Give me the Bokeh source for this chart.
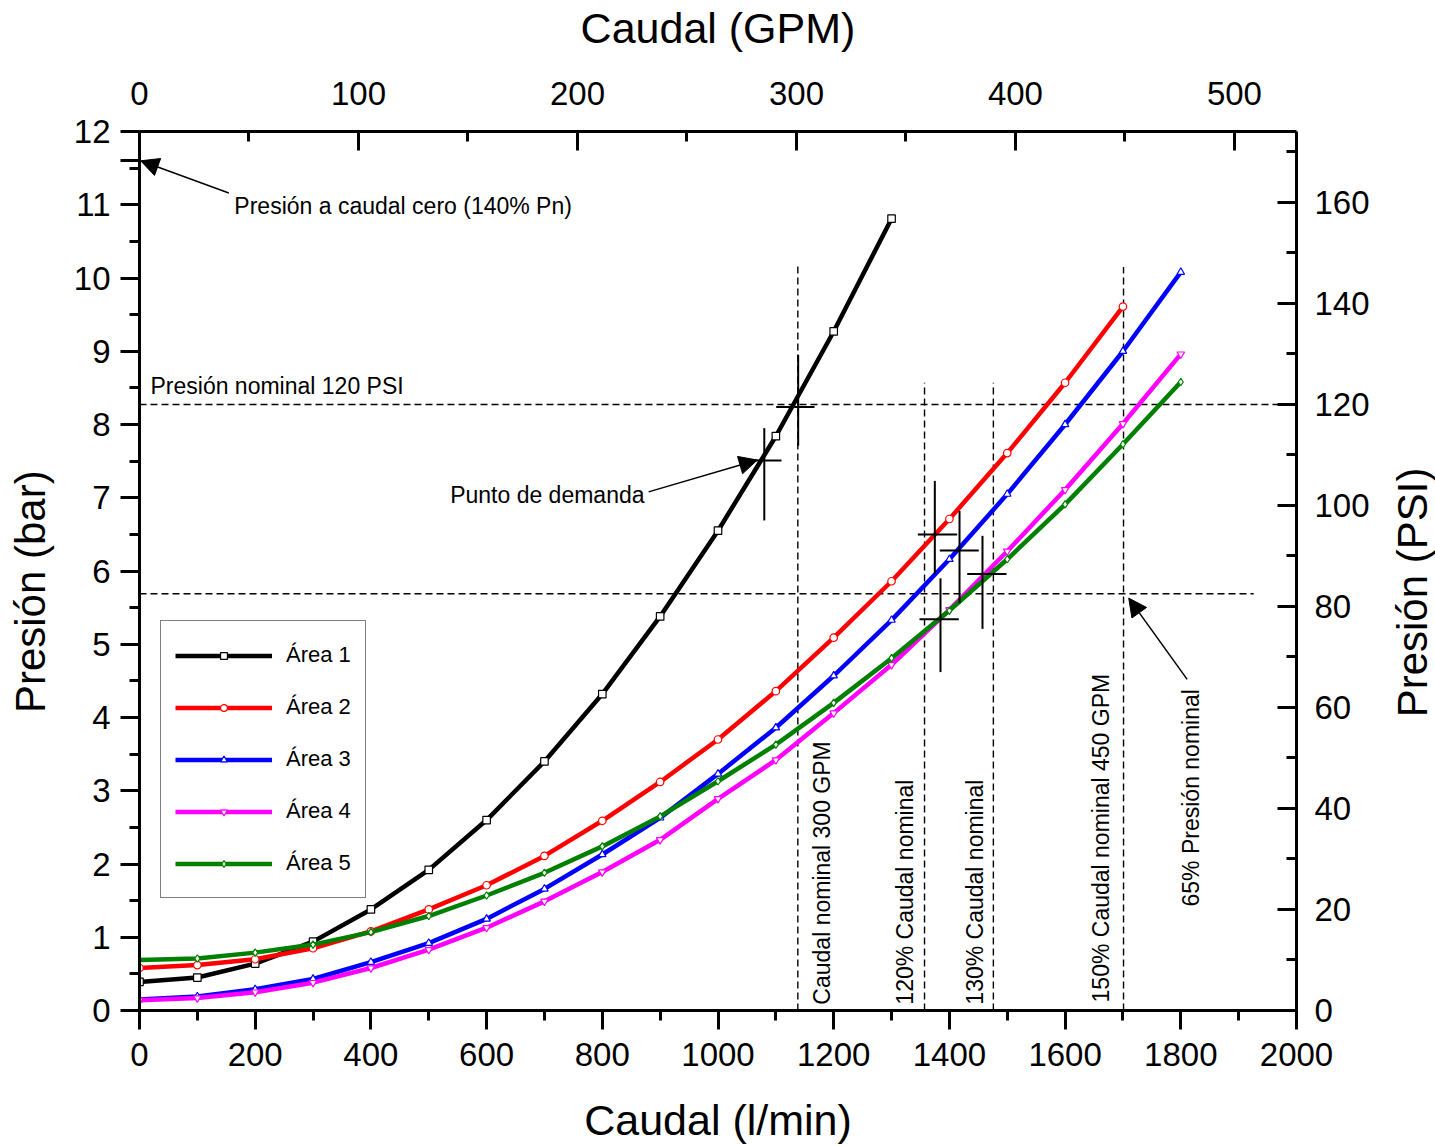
import numpy as np
from bokeh.plotting import figure
from bokeh.layouts import row
from bokeh.models import (Range1d, LinearAxis, SingleIntervalTicker, FixedTicker, Legend,
                          LegendItem, Label, Arrow, NormalHead)
from bokeh.core.properties import value
from bokeh.embed import file_html
from bokeh.resources import INLINE

# Unit conversions for the secondary axes
LPM_PER_GPM = 3.785411784
PSI_PER_BAR = 14.5037738

# ---- Pump curves: pressure (bar) against flow (l/min) ----
flow_lpm = [0, 100, 200, 300, 400, 500, 600, 700, 800, 900,
            1000, 1100, 1200, 1300, 1400, 1500, 1600, 1700, 1800]

area1 = [0.39, 0.45, 0.64, 0.94, 1.38, 1.92, 2.60, 3.40, 4.32, 5.38,
         6.55, 7.84, 9.27, 10.81]
area2 = [0.58, 0.62, 0.70, 0.85, 1.08, 1.38, 1.71, 2.11, 2.59, 3.12,
         3.70, 4.36, 5.09, 5.86, 6.71, 7.61, 8.57, 9.61]
area3 = [0.15, 0.19, 0.29, 0.43, 0.66, 0.92, 1.25, 1.66, 2.13, 2.63,
         3.23, 3.86, 4.57, 5.33, 6.16, 7.05, 8.00, 9.00, 10.08]
area4 = [0.14, 0.17, 0.25, 0.38, 0.58, 0.83, 1.13, 1.49, 1.89, 2.33,
         2.89, 3.42, 4.06, 4.72, 5.47, 6.27, 7.11, 8.01, 8.96]
area5 = [0.69, 0.71, 0.79, 0.90, 1.07, 1.29, 1.57, 1.88, 2.24, 2.65,
         3.13, 3.63, 4.20, 4.81, 5.46, 6.16, 6.91, 7.73, 8.58]

series_names = ["Área 1", "Área 2", "Área 3", "Área 4", "Área 5"]
series_values = [area1, area2, area3, area4, area5]
series_colors = ["#000000", "#FF0000", "#0000FF", "#FF00FF", "#008000"]
series_markers = ["square", "circle", "triangle", "inverted_triangle", "diamond"]

# ---- Reference lines ----
nominal_flow_lpm = [1138, 1357, 1476, 1701]      # 300 GPM, 120 %, 130 %, 150 %
nominal_flow_top_bar = [10.17, 8.57, 8.57, 10.15]
nominal_pressure_bar = 120 / PSI_PER_BAR           # 120 PSI
low_pressure_bar = 5.69                           # 65 % line
shutoff_pressure_bar = 11.6                       # 140 % Pn at zero flow

# ---- Operating points (cross marks) ----
cross_x = [1080, 1138.6, 1374.8, 1417.5, 1457.2, 1384.6]
cross_y = [7.51, 8.24, 6.50, 6.28, 5.96, 5.34]
cross_x0 = [1043.6, 1100.6, 1345.4, 1383.4, 1430.8, 1348.3]
cross_x1 = [1109.8, 1166.8, 1413.5, 1450.8, 1498.7, 1416.2]
cross_y0 = [6.69, 7.71, 5.96, 5.56, 5.21, 4.62]
cross_y1 = [7.95, 8.95, 7.23, 6.82, 6.48, 5.90]

FONT = "Liberation Sans"
HEIGHT = 1146
LEFT_STRIP = 58      # width of the strip holding the left pressure title
RIGHT_STRIP = 50     # width of the strip holding the right pressure title

p = figure(width=1435 - LEFT_STRIP - RIGHT_STRIP, height=HEIGHT,
           x_range=Range1d(0, 2000), y_range=Range1d(0, 12),
           output_backend="svg", toolbar_location=None,
           min_border_left=139 - LEFT_STRIP, min_border_right=139 - RIGHT_STRIP,
           min_border_top=131, min_border_bottom=135)
p.extra_x_ranges = {"gpm": Range1d(0, 2000 / LPM_PER_GPM)}
p.extra_y_ranges = {"psi": Range1d(0, 12 * PSI_PER_BAR)}
p.xgrid.visible = False
p.ygrid.visible = False
p.outline_line_color = None
p.background_fill_color = "white"
p.border_fill_color = "white"


def style_axis(ax, tick_in, tick_out, standoff, title=None, title_standoff=0):
    ax.axis_line_width = 3
    ax.axis_line_color = "black"
    ax.major_tick_line_width = 3
    ax.minor_tick_line_width = 3
    ax.major_tick_in = tick_in
    ax.major_tick_out = tick_out
    ax.minor_tick_in = int(round(tick_in * 0.55))
    ax.minor_tick_out = int(round(tick_out * 0.55))
    ax.major_label_text_font = FONT
    ax.major_label_text_font_size = "33px"
    ax.major_label_text_color = "black"
    ax.major_label_standoff = standoff
    if title:
        ax.axis_label = title
        ax.axis_label_text_font = FONT
        ax.axis_label_text_font_size = "43px"
        ax.axis_label_text_font_style = "normal"
        ax.axis_label_text_color = "black"
        ax.axis_label_standoff = title_standoff


bottom = p.xaxis[0]
bottom.ticker = SingleIntervalTicker(interval=200, num_minor_ticks=2)
style_axis(bottom, 0, 19, 13, "Caudal (l/min)", 27)

# Left axis: whole bars labelled, plus an unlabelled mark at the shut-off pressure
left = p.yaxis[0]
left.ticker = FixedTicker(ticks=list(range(13)) + [shutoff_pressure_bar],
                          minor_ticks=[i + 0.5 for i in range(12)])
left.major_label_overrides = {shutoff_pressure_bar: ""}
style_axis(left, 0, 19, 10)

top = LinearAxis(x_range_name="gpm",
                 ticker=SingleIntervalTicker(interval=100, num_minor_ticks=2))
style_axis(top, 19, 0, 27, "Caudal (GPM)", 27)
p.add_layout(top, "above")

right = LinearAxis(y_range_name="psi",
                   ticker=SingleIntervalTicker(interval=20, num_minor_ticks=2))
style_axis(right, 19, 0, 18)
p.add_layout(right, "right")

# Dashed reference lines
dash = dict(line_color="black", line_width=1.4, line_dash="7 4")
p.segment(x0=nominal_flow_lpm, y0=[0] * 4, x1=nominal_flow_lpm, y1=nominal_flow_top_bar, **dash)
p.segment(x0=[0, 0], y0=[nominal_pressure_bar, low_pressure_bar],
          x1=[2000, 1926], y1=[nominal_pressure_bar, low_pressure_bar], **dash)

# Curves
legend_items = []
for name, vals, color, marker in zip(series_names, series_values, series_colors, series_markers):
    xs = flow_lpm[:len(vals)]
    rl = p.line(xs, vals, line_color=color, line_width=4.5)
    rs = p.scatter(xs, vals, marker=marker, size=7.5, fill_color="white",
                   line_color=color, line_width=1.2)
    legend_items.append(LegendItem(label=name, renderers=[rl, rs]))

# Operating point crosses
p.segment(x0=cross_x0, y0=cross_y, x1=cross_x1, y1=cross_y, line_color="black", line_width=2)
p.segment(x0=cross_x, y0=cross_y0, x1=cross_x, y1=cross_y1, line_color="black", line_width=2)


def arrow(x0, y0, x1, y1):
    p.add_layout(Arrow(end=NormalHead(size=18, fill_color="black", line_color="black", line_width=1),
                       x_start=x0, y_start=y0, x_end=x1, y_end=y1,
                       line_width=1.5, line_color="black"))


arrow(154.4, 11.16, 2.0, shutoff_pressure_bar)
arrow(880.0, 7.08, 1068.0, 7.515)
arrow(1811.0, 4.52, 1710.0, low_pressure_bar - 0.06)


def label(x, y, text, size="23px", angle=0.0, align="left"):
    p.add_layout(Label(x=x, y=y, text=text, text_font=FONT, text_font_size=size,
                       text_color="black", text_align=align, text_baseline="middle",
                       angle=angle, angle_units="rad"))


label(164, 10.98, "Presión a caudal cero (140% Pn)")
label(19, 8.52, "Presión nominal 120 PSI")
label(537, 7.04, "Punto de demanda")
label(1180.6, 0.08, "Caudal nominal 300 GPM", angle=np.pi / 2)
label(1322.4, 0.08, "120% Caudal nominal", angle=np.pi / 2)
label(1443.4, 0.08, "130% Caudal nominal", angle=np.pi / 2)
label(1661.2, 0.11, "150% Caudal nominal 450 GPM", angle=np.pi / 2)
label(1816.8, 1.42, "65% Presión nominal", angle=np.pi / 2)

legend = Legend(items=legend_items, location=(21, 112),
                padding=14, spacing=12, glyph_width=97, glyph_height=17,
                label_height=40, label_standoff=14,
                label_text_font=FONT, label_text_font_size="22px",
                label_text_color="black", label_text_baseline="middle",
                border_line_color="black", border_line_width=1,
                background_fill_color="white", margin=0)
p.add_layout(legend, "center")


# Side strips carrying the two pressure titles, both read bottom-to-top
def title_strip(width, text, x_frac, y_frac):
    s = figure(width=width, height=HEIGHT, x_range=Range1d(0, 1), y_range=Range1d(0, 1),
               output_backend="svg", toolbar_location=None, min_border=0,
               x_axis_location=None, y_axis_location=None)
    s.xgrid.visible = False
    s.ygrid.visible = False
    s.outline_line_color = None
    s.border_fill_color = "white"
    s.text(x=[x_frac], y=[y_frac], text=[text], angle=np.pi / 2,
           text_font=value(FONT), text_font_size=value("42px"), text_color="black",
           text_align="center", text_baseline="middle")
    return s


left_strip = title_strip(LEFT_STRIP, "Presión (bar)", 30 / LEFT_STRIP, 1 - 600 / HEIGHT)
right_strip = title_strip(RIGHT_STRIP, "Presión (PSI)", 27 / RIGHT_STRIP, 1 - 601 / HEIGHT)

layout = row(left_strip, p, right_strip, spacing=0)
open("out.html", "w").write(file_html(layout, INLINE))
